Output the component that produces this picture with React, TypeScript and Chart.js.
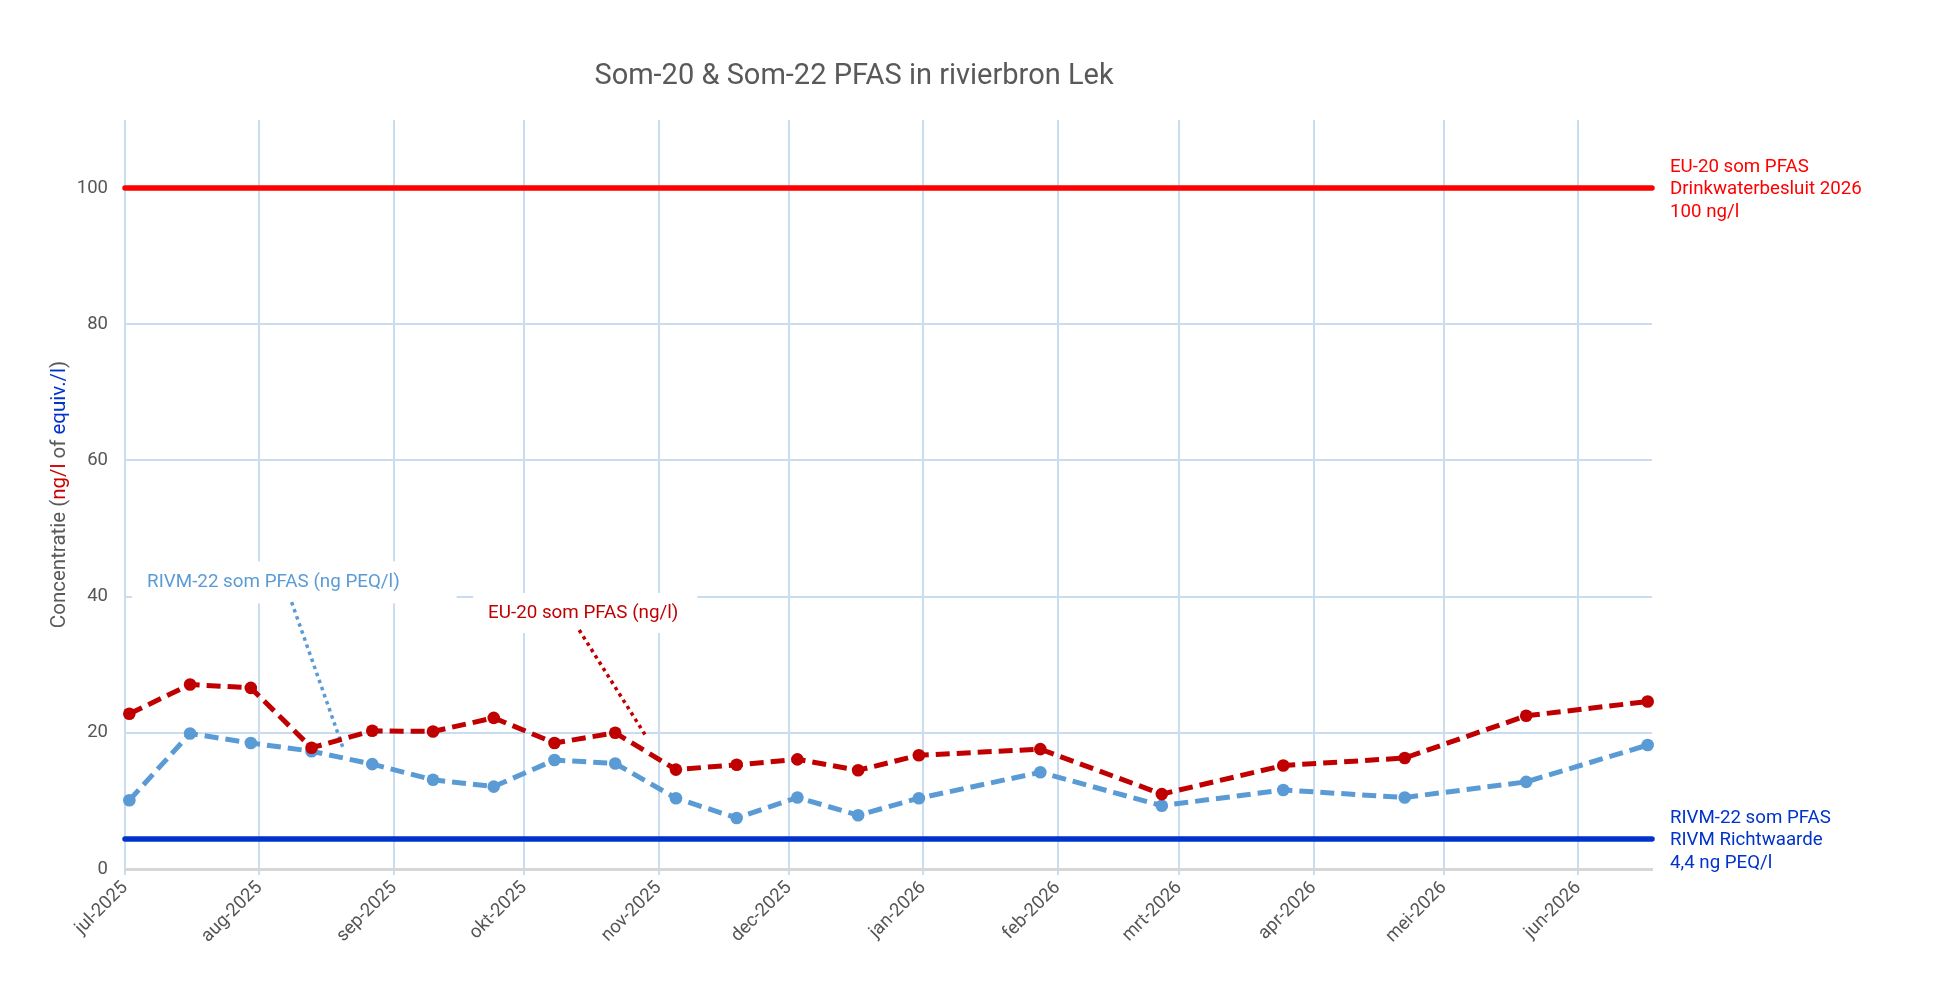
import React, { useEffect, useRef } from 'react';
import { Chart, registerables } from 'chart.js';

Chart.register(...registerables);

// ---- data -----------------------------------------------------------------

const ORIGIN = Date.UTC(2025, 6, 1);
const dayOf = (iso: string): number => (Date.parse(iso + 'T00:00:00Z') - ORIGIN) / 86400000;

const SAMPLE_DATES = [
  '2025-07-02', '2025-07-16', '2025-07-30', '2025-08-13', '2025-08-27',
  '2025-09-10', '2025-09-24', '2025-10-08', '2025-10-22', '2025-11-05',
  '2025-11-19', '2025-12-03', '2025-12-17', '2025-12-31', '2026-01-28',
  '2026-02-25', '2026-03-25', '2026-04-22', '2026-05-20', '2026-06-17',
];

// EU-20 som PFAS (ng/l)
const EU20_SOM = [
  22.8, 27.1, 26.6, 17.8, 20.3, 20.2, 22.2, 18.5, 20.0, 14.6,
  15.3, 16.1, 14.5, 16.7, 17.6, 11.0, 15.2, 16.3, 22.5, 24.6,
];

// RIVM-22 som PFAS (ng PEQ/l)
const RIVM22_SOM = [
  10.1, 19.9, 18.5, 17.3, 15.4, 13.1, 12.1, 16.0, 15.5, 10.4,
  7.5, 10.5, 7.9, 10.4, 14.2, 9.3, 11.6, 10.5, 12.8, 18.2,
];

const MONTH_STARTS = [
  '2025-07-01', '2025-08-01', '2025-09-01', '2025-10-01', '2025-11-01', '2025-12-01',
  '2026-01-01', '2026-02-01', '2026-03-01', '2026-04-01', '2026-05-01', '2026-06-01',
];
const MONTH_LABELS = [
  'jul-2025', 'aug-2025', 'sep-2025', 'okt-2025', 'nov-2025', 'dec-2025',
  'jan-2026', 'feb-2026', 'mrt-2026', 'apr-2026', 'mei-2026', 'jun-2026',
];
const AXIS_START = '2025-07-01';
const AXIS_END = '2026-06-18';

const Y_TICKS = [0, 20, 40, 60, 80, 100];
const Y_MAX = 110;

const EU20_NORM = 100;
const RIVM_RICHTWAARDE = 4.4;
const EU20_NORM_LABEL = ['EU-20 som PFAS', 'Drinkwaterbesluit 2026', '100 ng/l'];
const RIVM_NORM_LABEL = ['RIVM-22 som PFAS', 'RIVM Richtwaarde', '4,4 ng PEQ/l'];

const TITLE = 'Som-20 & Som-22 PFAS in rivierbron Lek';
const Y_TITLE_PARTS: [string, string][] = [
  ['Concentratie (', '#595959'],
  ['ng/l', '#cc0000'],
  [' of ', '#595959'],
  ['equiv./l', '#0033cc'],
  [')', '#595959'],
];

// ---- styling --------------------------------------------------------------

const FONT = 'Roboto, "Noto Sans", sans-serif';
const RED_SERIES = '#c00000';
const BLUE_SERIES = '#5b9bd5';
const RED_NORM = '#ff0000';
const BLUE_NORM = '#0033cc';
const GRID = '#c9dcf0';
const TEXT = '#555555';

// series callouts: label position and leader line, in axis units (days, ng/l)
const CALLOUTS = [
  {
    text: 'RIVM-22 som PFAS (ng PEQ/l)',
    color: BLUE_SERIES,
    textAt: [5.1, 42.1],
    padL: 15, padR: 57, boxH: 42,
    leader: [[38.4, 39.2], [50.2, 17.9]],
  },
  {
    text: 'EU-20 som PFAS (ng/l)',
    color: RED_SERIES,
    textAt: [83.7, 37.6],
    padL: 15, padR: 19, boxH: 40,
    leader: [[104.7, 35.1], [120.2, 19.4]],
  },
];

const seriesPoints = (values: number[]) =>
  SAMPLE_DATES.map((d, i) => ({ x: dayOf(d), y: values[i] }));

const flatLine = (value: number) => [
  { x: dayOf(AXIS_START), y: value },
  { x: dayOf(AXIS_END), y: value },
];

export default function App() {
  const canvasRef = useRef<HTMLCanvasElement | null>(null);

  useEffect(() => {
    const canvas = canvasRef.current;
    if (!canvas) return;

    const titlePlugin = {
      id: 'pfasTitle',
      afterDraw(chart: any) {
        const { ctx } = chart;
        ctx.save();
        ctx.font = `29px ${FONT}`;
        ctx.fillStyle = '#595959';
        ctx.textAlign = 'center';
        ctx.textBaseline = 'middle';
        ctx.fillText(TITLE, 854, 77);
        ctx.restore();
      },
    };

    const yTitlePlugin = {
      id: 'pfasYTitle',
      afterDraw(chart: any) {
        const { ctx, chartArea } = chart;
        ctx.save();
        ctx.font = `20.5px ${FONT}`;
        ctx.textBaseline = 'middle';
        ctx.textAlign = 'left';
        const total = Y_TITLE_PARTS.reduce((s, [t]) => s + ctx.measureText(t).width, 0);
        ctx.translate(60, (chartArea.top + chartArea.bottom) / 2);
        ctx.rotate(-Math.PI / 2);
        let x = -total / 2;
        for (const [t, c] of Y_TITLE_PARTS) {
          ctx.fillStyle = c;
          ctx.fillText(t, x, 0);
          x += ctx.measureText(t).width;
        }
        ctx.restore();
      },
    };

    const normLabelPlugin = {
      id: 'normLabels',
      afterDatasetsDraw(chart: any) {
        const { ctx, chartArea, scales } = chart;
        ctx.save();
        ctx.font = `18.7px ${FONT}`;
        ctx.textAlign = 'left';
        ctx.textBaseline = 'middle';
        const draw = (lines: string[], value: number, color: string) => {
          const y = scales.y.getPixelForValue(value);
          ctx.fillStyle = color;
          lines.forEach((l, i) => ctx.fillText(l, chartArea.right + 18, y + 1.5 + (i - 1) * 22.5));
        };
        draw(EU20_NORM_LABEL, EU20_NORM, RED_NORM);
        draw(RIVM_NORM_LABEL, RIVM_RICHTWAARDE, BLUE_NORM);
        ctx.restore();
      },
    };

    const calloutPlugin = {
      id: 'seriesCallouts',
      beforeDatasetsDraw(chart: any) {
        const { ctx, scales } = chart;
        const px = (v: number) => scales.x.getPixelForValue(v);
        const py = (v: number) => scales.y.getPixelForValue(v);
        ctx.save();
        ctx.font = `18.8px ${FONT}`;
        ctx.textAlign = 'left';
        ctx.textBaseline = 'middle';
        for (const c of CALLOUTS) {
          const tx = px(c.textAt[0]);
          const ty = py(c.textAt[1]);
          const w = ctx.measureText(c.text).width;
          ctx.fillStyle = '#ffffff';
          ctx.fillRect(tx - c.padL, ty - c.boxH / 2, w + c.padL + c.padR, c.boxH);
          ctx.fillStyle = c.color;
          ctx.fillText(c.text, tx, ty);
          ctx.strokeStyle = c.color;
          ctx.lineWidth = 3.5;
          ctx.setLineDash([3.5, 4]);
          ctx.beginPath();
          ctx.moveTo(px(c.leader[0][0]), py(c.leader[0][1]));
          ctx.lineTo(px(c.leader[1][0]), py(c.leader[1][1]));
          ctx.stroke();
        }
        ctx.restore();
      },
    };

    const chart = new Chart(canvas, {
      type: 'line',
      data: {
        datasets: [
          {
            label: 'EU-20 som PFAS (ng/l)',
            data: seriesPoints(EU20_SOM),
            borderColor: RED_SERIES,
            backgroundColor: RED_SERIES,
            borderWidth: 5,
            borderDash: [14, 7],
            pointRadius: 6.3,
            pointBorderWidth: 0,
            pointBackgroundColor: RED_SERIES,
            tension: 0,
            clip: false,
          },
          {
            label: 'RIVM-22 som PFAS (ng PEQ/l)',
            data: seriesPoints(RIVM22_SOM),
            borderColor: BLUE_SERIES,
            backgroundColor: BLUE_SERIES,
            borderWidth: 5,
            borderDash: [14, 7],
            pointRadius: 6.3,
            pointBorderWidth: 0,
            pointBackgroundColor: BLUE_SERIES,
            tension: 0,
            clip: false,
          },
          {
            label: 'EU-20 som PFAS Drinkwaterbesluit 2026',
            data: flatLine(EU20_NORM),
            borderColor: RED_NORM,
            borderWidth: 5.5,
            borderCapStyle: 'round',
            pointRadius: 0,
            clip: false,
          },
          {
            label: 'RIVM Richtwaarde',
            data: flatLine(RIVM_RICHTWAARDE),
            borderColor: BLUE_NORM,
            borderWidth: 5.5,
            borderCapStyle: 'round',
            pointRadius: 0,
            clip: false,
          },
        ],
      },
      options: {
        responsive: false,
        animation: false,
        events: [],
        layout: { padding: { top: 120, right: 307, bottom: 0, left: 0 } },
        plugins: {
          legend: { display: false },
          tooltip: { enabled: false },
          title: { display: false },
        },
        scales: {
          x: {
            type: 'linear',
            min: dayOf(AXIS_START),
            max: dayOf(AXIS_END),
            afterBuildTicks: (s: any) => {
              s.ticks = MONTH_STARTS.map((d) => ({ value: dayOf(d) }));
            },
            afterFit: (s: any) => {
              s.height = 118;
            },
            ticks: {
              autoSkip: false,
              maxRotation: 45,
              minRotation: 45,
              padding: 2,
              color: TEXT,
              font: { family: FONT, size: 18.5 },
              callback: (_v: any, i: number) => MONTH_LABELS[i],
            },
            grid: { color: GRID, lineWidth: 2, tickLength: 6 },
            border: { display: true, color: '#d6d6d6', width: 3 },
          },
          y: {
            min: 0,
            max: Y_MAX,
            afterBuildTicks: (s: any) => {
              s.ticks = Y_TICKS.map((v) => ({ value: v }));
            },
            afterFit: (s: any) => {
              s.width = 125;
            },
            ticks: {
              padding: 17,
              color: TEXT,
              font: { family: FONT, size: 18.5 },
            },
            grid: {
              color: (c: any) => (c.tick && c.tick.value === 0 ? 'rgba(0,0,0,0)' : GRID),
              lineWidth: 2,
              drawTicks: false,
            },
            border: { display: false },
          },
        },
      },
      plugins: [calloutPlugin, normLabelPlugin, titlePlugin, yTitlePlugin],
    } as any);

    return () => chart.destroy();
  }, []);

  return (
    <div style={{ position: 'absolute', left: 0, top: 0, width: 1959, height: 987, background: '#ffffff' }}>
      <canvas ref={canvasRef} width={1959} height={987} style={{ display: 'block' }} />
    </div>
  );
}
